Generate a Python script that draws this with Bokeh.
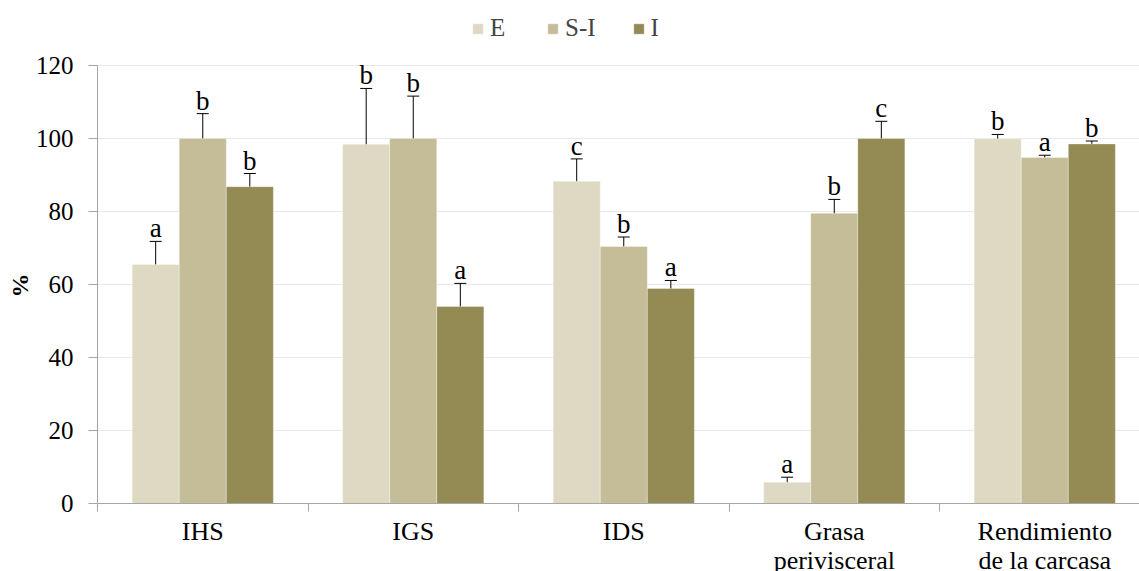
from bokeh.plotting import figure
from bokeh.models import (ColumnDataSource, Whisker, TeeHead, LabelSet, Legend, LegendItem,
                          FixedTicker, Range1d, Title)
from bokeh.embed import file_html
from bokeh.resources import INLINE

categories = ["IHS", "IGS", "IDS", "Grasa\nperivisceral", "Rendimiento\nde la carcasa"]
series = ["E", "S-I", "I"]

E_vals = [65.5, 98.4, 88.3, 5.8, 99.9]
E_upper = [71.8, 113.7, 94.4, 7.2, 101.1]
E_lower = [59.2, 82.7, 82.3, 4.5, 98.8]
E_letters = ["a", "b", "c", "a", "b"]

SI_vals = [100.0, 100.0, 70.4, 79.5, 94.8]
SI_upper = [106.8, 111.6, 73.0, 83.3, 95.4]
SI_lower = [93.4, 88.2, 67.9, 75.9, 94.2]
SI_letters = ["b", "b", "b", "b", "a"]

I_vals = [86.8, 54.0, 58.9, 100.0, 98.5]
I_upper = [90.4, 60.3, 61.1, 104.7, 99.3]
I_lower = [83.6, 47.7, 56.7, 95.0, 98.3]
I_letters = ["b", "a", "a", "c", "b"]

y_ticks = [0, 20, 40, 60, 80, 100, 120]
y_label = "%"

colors = ["#DDD9C3", "#C4BD97", "#948A54"]
FONT = "Liberation Serif"

bar_w = 0.2236
offsets = [-bar_w, 0.0, bar_w]
n = len(categories)
centers = [i + 0.5 for i in range(n)]

p = figure(frame_width=1042, frame_height=495, output_backend="svg", toolbar_location=None,
           x_range=Range1d(0, 4.95), y_range=Range1d(0, 135.6),
           min_border_left=97, min_border_right=0, min_border_top=8, min_border_bottom=60)
p.outline_line_color = None
p.background_fill_color = "white"
p.border_fill_color = "white"

data = [(E_vals, E_upper, E_lower, E_letters),
        (SI_vals, SI_upper, SI_lower, SI_letters),
        (I_vals, I_upper, I_lower, I_letters)]

items = []
for k, (vals, up, lo, let) in enumerate(data):
    src = ColumnDataSource(dict(x=[c + offsets[k] for c in centers], top=vals,
                                upper=up, lower=lo, letter=let))
    r = p.vbar(x="x", top="top", width=bar_w, source=src, fill_color=colors[k],
               line_color="white", line_alpha=0.35, line_width=1)
    items.append(LegendItem(label=series[k], renderers=[r]))
    w = Whisker(base="x", upper="upper", lower="lower", source=src,
                line_color="black", line_width=1,
                upper_head=TeeHead(size=12, line_color="black", line_width=1),
                lower_head=TeeHead(size=12, line_color="black", line_width=1))
    p.add_layout(w)
    labels = LabelSet(x="x", y="upper", text="letter", source=src, y_offset=4,
                      text_align="center", text_baseline="alphabetic",
                      text_font=FONT, text_font_size="27px", text_color="black")
    p.add_layout(labels)

legend = Legend(items=items, orientation="horizontal", location=(374, 461),
                glyph_width=13, glyph_height=13, label_standoff=6, spacing=36,
                padding=0, margin=0, border_line_color=None, background_fill_alpha=0,
                label_text_font=FONT, label_text_font_size="25px")
p.add_layout(legend, "center")

# y axis
p.yaxis.ticker = FixedTicker(ticks=y_ticks)
p.yaxis.bounds = (0, 120)
p.yaxis.axis_line_color = "#A6A6A6"
p.yaxis.major_tick_line_color = "#A6A6A6"
p.yaxis.major_tick_out = 9
p.yaxis.major_tick_in = 0
p.yaxis.minor_tick_line_color = None
p.yaxis.major_label_standoff = 15
p.yaxis.major_label_text_font = FONT
p.yaxis.major_label_text_font_size = "25px"
p.yaxis.major_label_text_color = "black"

ytitle = Title(text=y_label, align="left", offset=206, standoff=0,
               text_font=FONT, text_font_style="bold", text_font_size="24px",
               text_color="black")
p.add_layout(ytitle, "left")

# x axis
p.xaxis.ticker = FixedTicker(ticks=centers, minor_ticks=[0, 1, 2, 3, 4, 5])
p.xaxis.major_label_overrides = {c: categories[i] for i, c in enumerate(centers)}
p.xaxis.axis_line_color = "#A6A6A6"
p.xaxis.major_tick_line_color = None
p.xaxis.major_tick_out = 0
p.xaxis.major_tick_in = 0
p.xaxis.minor_tick_line_color = "#A6A6A6"
p.xaxis.minor_tick_out = 8
p.xaxis.minor_tick_in = 0
p.xaxis.major_label_standoff = 5
p.xaxis.major_label_text_font = FONT
p.xaxis.major_label_text_font_size = "26px"
p.xaxis.major_label_text_color = "black"
p.xaxis.major_label_text_line_height = 1.0

p.xgrid.grid_line_color = None
p.ygrid.ticker = FixedTicker(ticks=y_ticks)
p.ygrid.grid_line_color = "#E8E8E8"
p.ygrid.grid_line_width = 1

open("out.html", "w").write(file_html(p, INLINE))
